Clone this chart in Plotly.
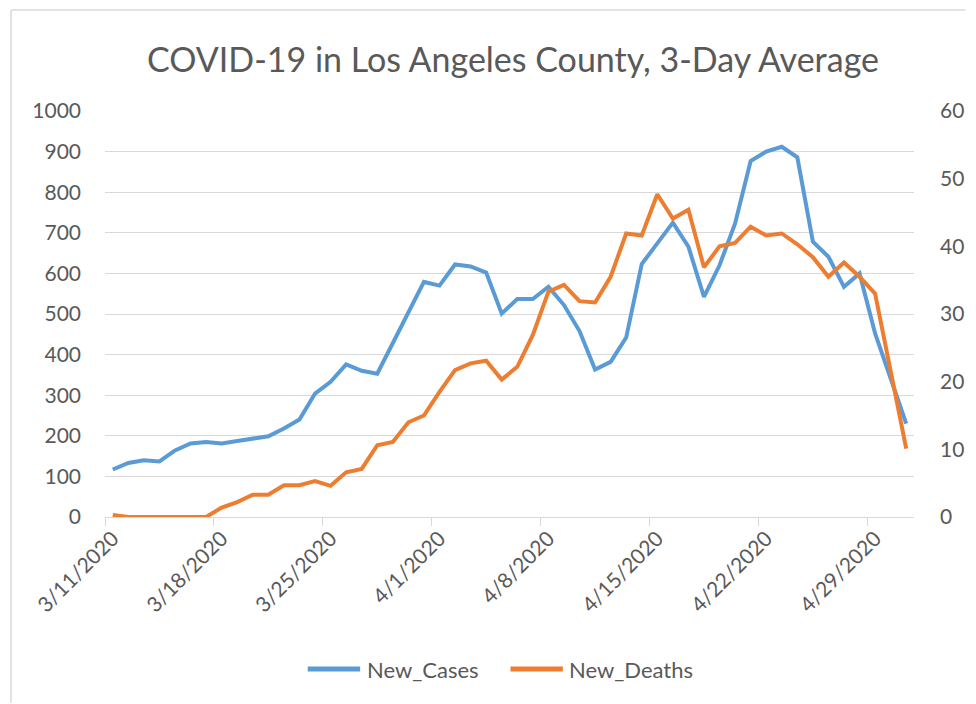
import pandas as pd
import plotly.graph_objects as go

# Dates (3/11/2020 .. 5/1/2020)
dates = pd.date_range("2020-03-11", "2020-05-01", freq="D")

new_cases = [117, 133, 140, 137, 164, 181, 185, 181, 187, 193,
             199, 218, 240, 304, 333, 376, 360, 353, 430, 505,
             579, 570, 622, 617, 602, 501, 537, 537, 567, 522,
             458, 363, 382, 442, 623, 674, 725, 666, 542, 620,
             723, 877, 900, 912, 886, 678, 641, 567, 600, 452,
             338, 230]

new_deaths = [0.3, 0, 0, 0, 0, 0, 0, 1.4, 2.2, 3.3,
              3.3, 4.7, 4.7, 5.3, 4.6, 6.6, 7.1, 10.6, 11.1, 14.0,
              15.0, 18.5, 21.7, 22.7, 23.1, 20.3, 22.2, 26.9, 33.3, 34.3,
              31.9, 31.7, 35.5, 41.9, 41.6, 47.7, 44.1, 45.4, 36.9, 40.0,
              40.5, 42.9, 41.6, 41.9, 40.3, 38.4, 35.5, 37.6, 35.5, 33.0,
              21.3, 10.1]

series_names = ["New_Cases", "New_Deaths"]
series_colors = ["#5B9BD5", "#ED7D31"]

tick_dates = pd.date_range("2020-03-11", "2020-04-29", freq="7D")
tick_labels = [f"{d.month}/{d.day}/{d.year}" for d in tick_dates]
boundary_ticks = [d - pd.Timedelta(hours=12) for d in tick_dates]

title_text = "COVID-19 in Los Angeles County, 3-Day Average"

FONT = "Lato, 'Open Sans', sans-serif"
GRAY = "#595959"
GRID = "#d9d9d9"

W, H = 976, 704
# plot area in page pixels
PL, PR, PT, PB = 105, 923, 111, 517
L, T = PL, PT
R = W - PR
B = H - PB
pw, ph = PR - PL, PB - PT

def px_x(x):
    return (x - PL) / pw

def px_y(y):
    return (PB - y) / ph

fig = go.Figure()
fig.add_trace(go.Scatter(x=dates, y=new_cases, name=series_names[0], mode="lines",
                         line=dict(color=series_colors[0], width=4), yaxis="y",
                         showlegend=False))
fig.add_trace(go.Scatter(x=dates, y=new_deaths, name=series_names[1], mode="lines",
                         line=dict(color=series_colors[1], width=4), yaxis="y2",
                         showlegend=False))

fig.update_layout(
    width=W, height=H,
    margin=dict(l=L, r=R, t=T, b=B),
    paper_bgcolor="white", plot_bgcolor="white",
    font=dict(family=FONT, color=GRAY, size=21),
    title=dict(text=title_text, x=513 / W, xanchor="center",
               y=1 - 60 / H, yanchor="middle", xref="container", yref="container",
               font=dict(family=FONT, size=34, color=GRAY)),
    showlegend=False,
    xaxis=dict(
        type="date",
        range=[dates[0] - pd.Timedelta(hours=12), dates[-1] + pd.Timedelta(hours=12)],
        tickmode="array", tickvals=list(tick_dates), ticktext=tick_labels,
        tickangle=-45, ticks="", showgrid=False, zeroline=False,
        showline=True, linecolor=GRID, linewidth=1,
        tickfont=dict(family=FONT, size=21, color=GRAY),
        minor=dict(tickmode="array", tickvals=boundary_ticks, ticks="outside",
                   ticklen=8, tickcolor=GRID, tickwidth=1, showgrid=False),
    ),
    yaxis=dict(
        range=[0, 1000], dtick=100, showgrid=True, gridcolor=GRID, gridwidth=1,
        zeroline=False, showline=False, ticks="", ticklabelstandoff=23,
        tickfont=dict(family=FONT, size=21, color=GRAY),
    ),
    yaxis2=dict(
        range=[0, 60], dtick=10, overlaying="y", side="right", showgrid=False,
        zeroline=False, showline=False, ticks="", ticklabelstandoff=25,
        tickfont=dict(family=FONT, size=21, color=GRAY),
    ),
)

# Custom legend (line samples + labels)
legend_y = px_y(669)
legend_items = [(310, 363, 368), (515, 568, 572)]
for (x0, x1, xt), name, color in zip(legend_items, series_names, series_colors):
    fig.add_shape(type="line", xref="paper", yref="paper",
                  x0=px_x(x0), x1=px_x(x1), y0=legend_y, y1=legend_y,
                  line=dict(color=color, width=5))
    fig.add_annotation(xref="paper", yref="paper", x=px_x(xt), y=legend_y,
                       text=name, showarrow=False, xanchor="left", yanchor="middle",
                       font=dict(family=FONT, size=22, color=GRAY))

# Chart area border (top and left edges visible), kept inside the page
fig.add_shape(type="line", xref="paper", yref="paper",
              x0=px_x(10), x1=px_x(975), y0=px_y(10), y1=px_y(10),
              line=dict(color=GRID, width=1.5), layer="below")
fig.add_shape(type="line", xref="paper", yref="paper",
              x0=px_x(10), x1=px_x(10), y0=px_y(10), y1=px_y(703),
              line=dict(color=GRID, width=1.5), layer="below")

fig.write_html("out.html", config={"displayModeBar": False},
               post_script="document.body.style.margin='0';document.body.style.overflow='hidden';")
